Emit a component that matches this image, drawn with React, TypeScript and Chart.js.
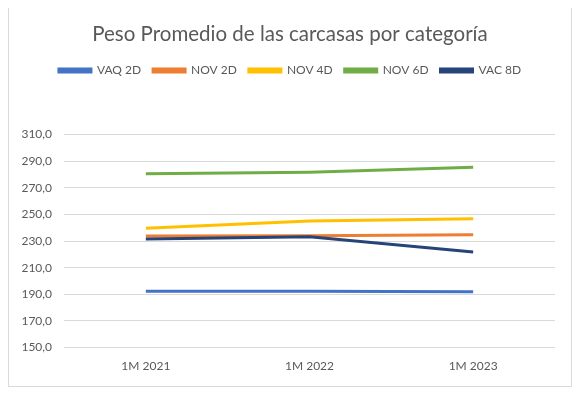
import React, { useEffect, useRef } from "react";
import { Chart, registerables } from "chart.js";

Chart.register(...registerables);

const categories = ["1M 2021", "1M 2022", "1M 2023"];
const seriesNames = ["VAQ 2D", "NOV 2D", "NOV 4D", "NOV 6D", "VAC 8D"];
const vaq2d = [192.3, 192.4, 192.0];
const nov2d = [233.8, 234.0, 234.8];
const nov4d = [239.6, 245.1, 246.7];
const nov6d = [280.6, 281.8, 285.4];
const vac8d = [231.5, 233.2, 221.8];
const seriesColors = ["#4472C4", "#ED7D31", "#FFC000", "#70AD47", "#264478"];
const yMin = 150;
const yMax = 310;
const yStep = 20;
const title = "Peso Promedio de las carcasas por categoría";

const FONT = "Lato, 'Open Sans', sans-serif";

const legendSpacer = {
  id: "legendSpacer",
  beforeInit(chart: any) {
    const legend = chart.legend;
    if (!legend) return;
    const orig = legend.fit;
    legend.fit = function () {
      orig.call(this);
      this.height += 48;
    };
  },
};

export default function App() {
  const ref = useRef<HTMLCanvasElement>(null);
  useEffect(() => {
    if (!ref.current) return;
    const values = [vaq2d, nov2d, nov4d, nov6d, vac8d];
    const chart = new Chart(ref.current, {
      type: "line",
      data: {
        labels: categories,
        datasets: seriesNames.map((name, i) => ({
          label: name,
          data: values[i],
          borderColor: seriesColors[i],
          backgroundColor: seriesColors[i],
          borderWidth: 3,
          pointRadius: 0,
          tension: 0,
          order: seriesNames.length - i,
          yAxisID: "y",
        })),
      },
      plugins: [legendSpacer],
      options: {
        responsive: false,
        animation: false,
        maintainAspectRatio: false,
        layout: { padding: { left: 9.5, right: 9.5, top: 0, bottom: 2 } },
        plugins: {
          title: {
            display: true,
            text: title,
            color: "#595959",
            font: { family: FONT, size: 20.5, weight: "normal" },
            padding: { top: 15, bottom: 6 },
          },
          legend: {
            display: true,
            position: "top",
            labels: {
              boxWidth: 32,
              boxHeight: 3,
              color: "#595959",
              font: { family: FONT, size: 12 },
              padding: 12,
              sort: (a: any, b: any) => a.datasetIndex - b.datasetIndex,
            },
          },
          tooltip: { enabled: false },
        },
        scales: {
          x: {
            offset: true,
            grid: { display: false, drawTicks: false },
            border: { display: false },
            ticks: {
              color: "#595959",
              font: { family: FONT, size: 12 },
              padding: 11,
            },
          },
          y: {
            min: yMin,
            max: yMax,
            grid: { color: "#d9d9d9", drawTicks: false, lineWidth: 1 },
            border: { display: false },
            afterFit: (s: any) => {
              s.width = 45.5;
            },
            ticks: {
              stepSize: yStep,
              color: "#595959",
              font: { family: FONT, size: 12 },
              padding: 12,
              callback: (v: any) => Number(v).toFixed(1).replace(".", ","),
            },
          },
          yRight: {
            position: "right",
            min: 0,
            max: 1,
            grid: { display: false, drawTicks: false },
            border: { display: false },
            ticks: { display: false },
            afterFit: (s: any) => {
              s.width = 6.5;
            },
          },
        },
      },
    });
    return () => chart.destroy();
  }, []);
  return (
    <div
      style={{
        width: 562,
        height: 379,
        border: "1px solid #d9d9d9",
        marginTop: -2,
        background: "#fff",
      }}
    >
      <canvas ref={ref} width={562} height={379} style={{ display: "block" }} />
    </div>
  );
}
